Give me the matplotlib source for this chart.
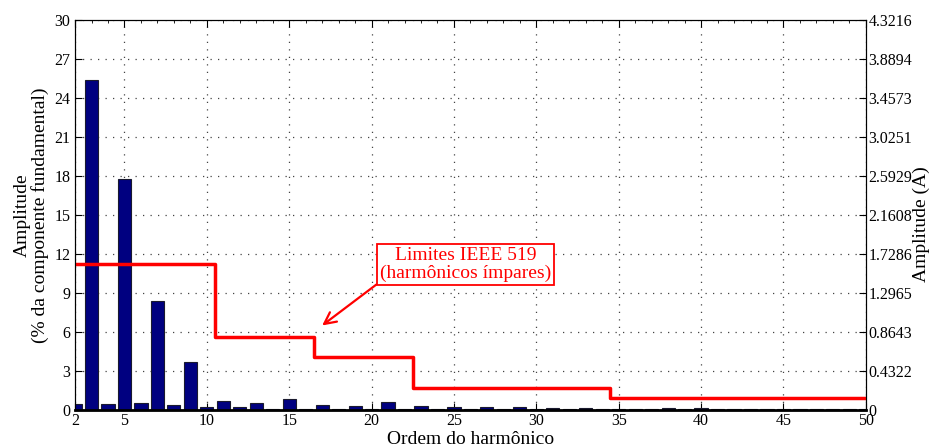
import numpy as np
import matplotlib.pyplot as plt
from matplotlib.ticker import MultipleLocator

plt.rcParams["font.family"] = ["Liberation Serif", "DejaVu Serif"]
plt.rcParams["font.size"] = 11.5

# harmonic spectrum (% of fundamental)
orders = np.arange(2, 51)
amplitude = [0.45, 25.4, 0.45, 17.8, 0.5, 8.4, 0.35, 3.7, 0.2, 0.7,
             0.2, 0.5, 0.05, 0.85, 0.05, 0.35, 0.05, 0.3, 0.05, 0.6,
             0.05, 0.3, 0.05, 0.25, 0.05, 0.22, 0.05, 0.22, 0.05, 0.12,
             0.05, 0.12, 0.05, 0.05, 0.05, 0.05, 0.12, 0.05, 0.12, 0.05,
             0.05, 0.05, 0.05, 0.05, 0.05, 0.05, 0.05, 0.05, 0.05]

# IEEE 519 odd harmonic limits (step edges and levels)
limit_edges = [2, 10.5, 16.5, 22.5, 34.5, 50]
limit_levels = [11.2, 5.6, 4.1, 1.7, 0.9]

yticks = np.arange(0, 31, 3)
amp_labels = ["0", "0.4322", "0.8643", "1.2965", "1.7286", "2.1608",
              "2.5929", "3.0251", "3.4573", "3.8894", "4.3216"]

fig = plt.figure(figsize=(9.32, 4.48), dpi=100)
ax = fig.add_axes([0.0805, 0.085, 0.8485, 0.87])

ax.bar(orders, amplitude, width=0.8, color="#000080", edgecolor="#1a1a2e",
       linewidth=0.8, zorder=2)

lx = np.repeat(limit_edges, 2)[1:-1]
ly = np.repeat(limit_levels, 2)
ax.plot(lx, ly, color="red", linewidth=2.5, zorder=3)

ax.set_xlim(2, 50)
ax.set_ylim(0, 30)
ax.set_xticks([2, 5, 10, 15, 20, 25, 30, 35, 40, 45, 50])
ax.set_yticks(yticks)
ax.xaxis.set_minor_locator(MultipleLocator(1))
ax.tick_params(which="major", direction="in", length=5, top=True)
ax.tick_params(which="minor", direction="in", length=2, top=True, bottom=False)
ax.tick_params(axis="x", pad=2)
ax.grid(True, linestyle=(0, (1, 5)), color="#444444", linewidth=0.9, zorder=0)
ax.spines["bottom"].set_linewidth(2)

ax.set_xlabel("Ordem do harmônico", fontsize=14, labelpad=2)
ax.set_ylabel("Amplitude\n(% da componente fundamental)", fontsize=14,
              labelpad=4, linespacing=1.0)

ax2 = ax.twinx()
ax2.set_ylim(0, 30)
ax2.set_yticks(yticks)
ax2.set_yticklabels(amp_labels)
ax2.tick_params(direction="in", length=5, pad=2)
fig.text(0.989, 0.5, "Amplitude (A)", rotation=90, fontsize=14,
         ha="center", va="center")

ax.annotate("Limites IEEE 519\n(harmônicos ímpares)", xy=(17.0, 6.5), xytext=(25.7, 11.2),
            color="red", ha="center", va="center", fontsize=14,
            linespacing=1.05,
            bbox=dict(boxstyle="square,pad=0.15", fc="white", ec="red", lw=1.3),
            arrowprops=dict(arrowstyle="->,head_length=0.6,head_width=0.3",
                            color="red", lw=1.6, shrinkA=0, shrinkB=0,
                            relpos=(0.0, 0.0)),
            zorder=5)

fig.savefig("out.png", dpi=100)
